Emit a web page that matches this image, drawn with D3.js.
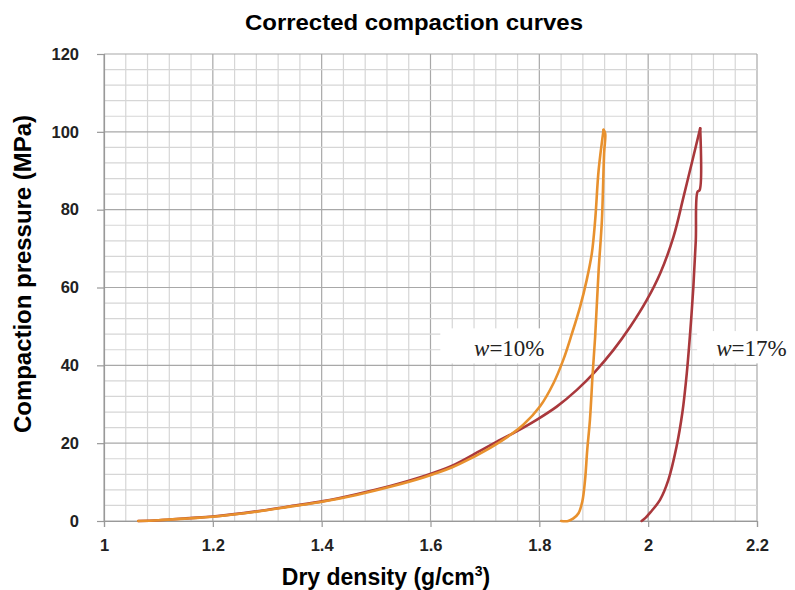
<!DOCTYPE html>
<html><head><meta charset="utf-8">
<script src="https://cdn.jsdelivr.net/npm/d3@7"></script>
<style>body{margin:0;background:#fff}</style>
</head><body>
<svg id="chart" width="795" height="590"></svg>
<script>
// ---- data ----
const xTicks = [1, 1.2, 1.4, 1.6, 1.8, 2, 2.2];
const yTicks = [0, 20, 40, 60, 80, 100, 120];
const seriesLabels = ["10%", "17%"];

// w = 10 % : loading branch
const w10LoadDensity  = [1.063, 1.10, 1.158, 1.20, 1.281, 1.342, 1.403, 1.464, 1.526, 1.587, 1.64, 1.68, 1.70, 1.734, 1.771, 1.801, 1.826, 1.844, 1.860, 1.875, 1.887, 1.8965, 1.9026, 1.909, 1.918];
const w10LoadPressure = [0, 0.2, 0.7, 1.1, 2.4, 3.7, 5.0, 6.7, 8.8, 11.2, 13.8, 16.5, 18.0, 20.9, 24.8, 29.4, 35.4, 41.4, 48.2, 55.1, 61.9, 68.8, 77.3, 90.2, 100.5];
// w = 10 % : unloading branch
const w10UnloadDensity  = [1.918, 1.921, 1.919, 1.915, 1.909, 1.9026, 1.898, 1.893, 1.888, 1.884, 1.879, 1.872, 1.862, 1.853, 1.84];
const w10UnloadPressure = [100.5, 99.6, 94.5, 77.3, 64.5, 47.4, 37.9, 26, 18.2, 10.5, 5, 2, 0.6, 0, 0];

// w = 17 % : loading branch
const w17LoadDensity  = [1.063, 1.10, 1.158, 1.20, 1.281, 1.342, 1.403, 1.464, 1.526, 1.587, 1.64, 1.691, 1.722, 1.759, 1.795, 1.832, 1.869, 1.9026, 1.936, 1.967, 1.9976, 2.022, 2.0465, 2.065, 2.083, 2.0956];
const w17LoadPressure = [0, 0.2, 0.75, 1.15, 2.5, 3.8, 5.1, 6.9, 9.0, 11.5, 14.2, 18.0, 20.4, 23.1, 26.0, 29.4, 33.7, 38.4, 43.9, 49.9, 56.8, 63.6, 73.0, 83.3, 93.6, 100.9];
// w = 17 % : unloading branch
const w17UnloadDensity  = [2.0956, 2.0945, 2.0907, 2.0875, 2.083, 2.0775, 2.071, 2.063, 2.052, 2.037, 2.022, 2.004, 1.995, 1.988];
const w17UnloadPressure = [100.9, 85, 84.6, 72, 60, 49, 38, 28, 19, 10.5, 5.5, 2.2, 0.8, 0];

const colors = ["#E8912E", "#A9383C"];

// ---- chart ----
const svg = d3.select("#chart");
const x = d3.scaleLinear().domain([1, 2.2]).range([104, 757]);
const y = d3.scaleLinear().domain([0, 120]).range([521, 54]);

// grid
const minorX = d3.range(0, 31).map(i => 1 + i * 0.04);
const minorY = d3.range(0, 31).map(i => i * 4);
const grid = svg.append("g");
grid.selectAll("line.mx").data(minorX).enter().append("line")
  .attr("x1", d => x(d)).attr("x2", d => x(d)).attr("y1", y(0)).attr("y2", y(120))
  .attr("stroke", (d, i) => i % 5 === 0 ? "#a8a8a8" : "#d6d6d6").attr("stroke-width", 1.2);
grid.selectAll("line.my").data(minorY).enter().append("line")
  .attr("y1", d => y(d)).attr("y2", d => y(d)).attr("x1", x(1)).attr("x2", x(2.2))
  .attr("stroke", (d, i) => i % 5 === 0 ? "#a8a8a8" : "#d6d6d6").attr("stroke-width", 1.2);

// axes
const xAxis = d3.axisBottom(x).tickValues(xTicks).tickSize(6).tickPadding(12).tickFormat(d3.format("~g"));
const yAxis = d3.axisLeft(y).tickValues(yTicks).tickSize(7).tickPadding(18).tickFormat(d3.format("d"));
const gx = svg.append("g").attr("transform", `translate(0,${y(0)})`).call(xAxis);
const gy = svg.append("g").attr("transform", `translate(${x(1)},0)`).call(yAxis);
[gx, gy].forEach(g => {
  g.select(".domain").attr("stroke", "#999").attr("stroke-width", 1.2);
  g.selectAll(".tick line").attr("stroke", "#999").attr("stroke-width", 1.2);
  g.selectAll(".tick text").attr("fill", "#222")
    .style("font-family", "'Liberation Sans Narrow', 'Liberation Sans', Arial, sans-serif")
    .style("font-weight", "bold").style("font-size", "16.5px");
});

// label boxes (white, hide grid)
const boxes = [[1.618, 1.84, 40.5, 49.5], [2.09, 2.3, 40.5, 48.8]];
svg.selectAll("rect.box").data(boxes).enter().append("rect")
  .attr("x", d => x(d[0])).attr("width", d => x(d[1]) - x(d[0]))
  .attr("y", d => y(d[3])).attr("height", d => y(d[2]) - y(d[3]))
  .attr("fill", "#fff");

// curves
const line = d3.line().x(d => x(d[0])).y(d => y(d[1])).curve(d3.curveCatmullRom.alpha(0.5));
const branches = [
  [w10LoadDensity, w10LoadPressure, 0],
  [w10UnloadDensity, w10UnloadPressure, 0],
  [w17LoadDensity, w17LoadPressure, 1],
  [w17UnloadDensity, w17UnloadPressure, 1]
];
// draw red first, orange on top in overlapping part
[2, 3, 0, 1].forEach(k => {
  const b = branches[k];
  const pts = b[0].map((d, i) => [d, b[1][i]]);
  svg.append("path").attr("d", line(pts)).attr("fill", "none")
    .attr("stroke", colors[b[2]]).attr("stroke-width", 2.6)
    .attr("stroke-linejoin", "round").attr("stroke-linecap", "round");
});

// series labels
const labelPos = [[1.68, 42.5], [2.125, 42.5]];
seriesLabels.forEach((s, i) => {
  const t = svg.append("text").attr("x", x(labelPos[i][0])).attr("y", y(labelPos[i][1]))
    .style("font-family", "'Liberation Serif', 'Times New Roman', serif").style("font-size", "23px").attr("fill", "#222");
  t.append("tspan").style("font-style", "italic").text("w");
  t.append("tspan").text("=" + s);
});

// titles
svg.append("text").attr("x", 414).attr("y", 30).attr("text-anchor", "middle")
  .style("font-family", "'Liberation Sans', Arial, sans-serif").style("font-weight", "bold").style("font-size", "22px")
  .attr("textLength", 338).attr("lengthAdjust", "spacingAndGlyphs")
  .text("Corrected compaction curves");

svg.append("text").attr("transform", "translate(31,274) rotate(-90)").attr("text-anchor", "middle")
  .style("font-family", "'Liberation Sans', Arial, sans-serif").style("font-weight", "bold").style("font-size", "24px")
  .attr("textLength", 318).attr("lengthAdjust", "spacingAndGlyphs")
  .text("Compaction pressure (MPa)");

const xl = svg.append("text").attr("x", 386).attr("y", 585).attr("text-anchor", "middle")
  .style("font-family", "'Liberation Sans', Arial, sans-serif").style("font-weight", "bold").style("font-size", "23px");
xl.append("tspan").text("Dry density (g/cm");
xl.append("tspan").attr("dy", -9).style("font-size", "14px").text("3");
xl.append("tspan").attr("dy", 9).text(")");
</script>
</body></html>
